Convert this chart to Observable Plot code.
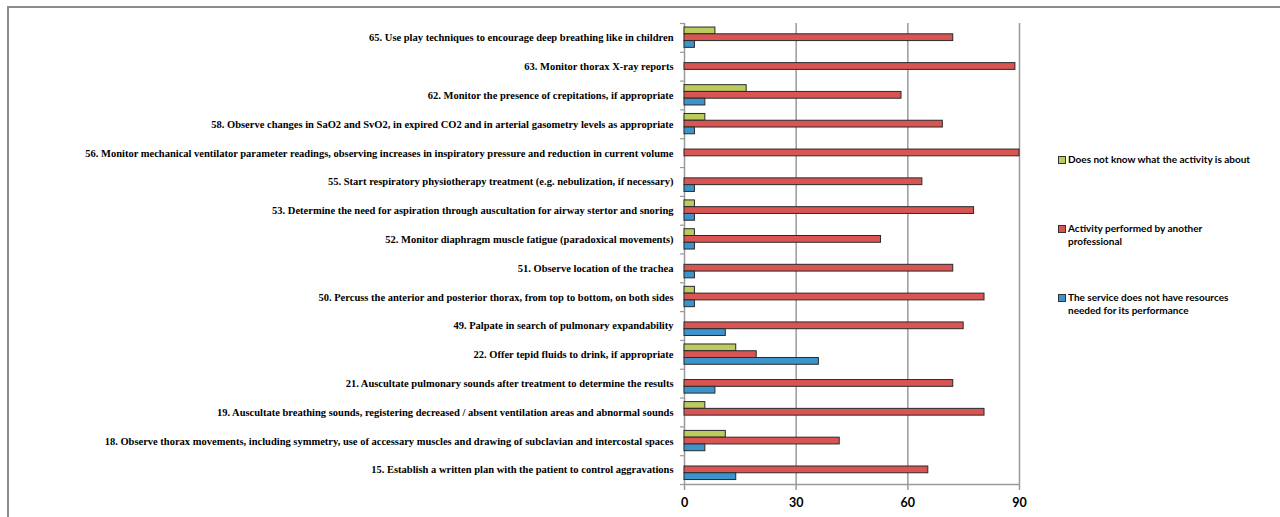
<!DOCTYPE html>
<html>
<head>
<meta charset="utf-8">
<script src="https://cdn.jsdelivr.net/npm/d3@7"></script>
<script src="https://cdn.jsdelivr.net/npm/@observablehq/plot@0.6"></script>
<style>
  html, body { margin: 0; padding: 0; background: #fff; }
  #wrap { position: relative; width: 1280px; height: 517px; overflow: hidden; }
  #frameTop { position: absolute; left: 8px; top: 6px; right: 0; height: 0; border-top: 2px solid #8c8c8c; }
  #frameLeft { position: absolute; left: 7px; top: 6px; bottom: 0; width: 0; border-left: 2px solid #8c8c8c; }
  #legend { position: absolute; left: 1058px; top: 0; font-family: Lato, "Open Sans", sans-serif; font-weight: bold; font-size: 10px; color: #000; }
  .item { position: absolute; left: 0; width: 210px; line-height: 13px; white-space: nowrap; }
  .sw { position: absolute; left: 0; top: 3px; width: 6px; height: 6px; border: 1px solid #333; }
  .lt { position: absolute; left: 10px; top: 0; }
  svg text { font-family: inherit; }
</style>
</head>
<body>
<div id="wrap">
  <div id="chart"></div>
  <div id="frameTop"></div>
  <div id="frameLeft"></div>
  <div id="legend"></div>
</div>
<script>
const labels = [
  "65. Use play techniques to encourage deep breathing like in children",
  "63. Monitor thorax X-ray reports",
  "62. Monitor the presence of crepitations, if appropriate",
  "58. Observe changes in SaO2 and SvO2, in expired CO2 and in arterial gasometry levels as appropriate",
  "56. Monitor mechanical ventilator parameter readings, observing increases in inspiratory pressure and reduction in current volume",
  "55. Start respiratory physiotherapy treatment (e.g. nebulization, if necessary)",
  "53. Determine the need for aspiration through auscultation for airway stertor and snoring",
  "52. Monitor diaphragm muscle fatigue (paradoxical movements)",
  "51. Observe location of the trachea",
  "50. Percuss the anterior and posterior thorax, from top to bottom, on both sides",
  "49. Palpate in search of pulmonary expandability",
  "22. Offer tepid fluids to drink, if appropriate",
  "21. Auscultate pulmonary sounds after treatment to determine the results",
  "19. Auscultate breathing sounds, registering decreased / absent ventilation areas and abnormal sounds",
  "18. Observe thorax movements, including symmetry, use of accessary muscles and drawing of subclavian and intercostal spaces",
  "15. Establish a written plan with the patient to control aggravations"
];
const doesNotKnow       = [8.3, 0, 16.7, 5.6, 0, 0, 2.8, 2.8, 0, 2.8, 0, 13.9, 0, 5.6, 11.1, 0];
const otherProfessional = [72.2, 88.9, 58.3, 69.4, 90, 63.9, 77.8, 52.8, 72.2, 80.6, 75, 19.4, 72.2, 80.6, 41.7, 65.5];
const noResources       = [2.8, 0, 5.6, 2.8, 0, 2.8, 2.8, 2.8, 2.8, 2.8, 11.1, 36.1, 8.3, 0, 5.6, 13.9];
const seriesNames = [
  "Does not know what the activity is about",
  "Activity performed by another professional",
  "The service does not have resources needed for its performance"
];
const seriesLegendLines = [
  ["Does not know what the activity is about"],
  ["Activity performed by another", "professional"],
  ["The service does not have resources", "needed for its performance"]
];
const xTicks = [0, 30, 60, 90];
const colors = ["#BBCB5D", "#D95553", "#3D94CC"];

const seriesValues = [doesNotKnow, otherProfessional, noResources];
const groupStart = 0.14, barH = 0.235;
const rects = [];
seriesValues.forEach((vals, s) => {
  vals.forEach((v, i) => {
    if (v > 0) rects.push({
      row: i, series: seriesNames[s], value: v,
      y1: i + groupStart + s * barH, y2: i + groupStart + (s + 1) * barH
    });
  });
});
const rows = labels.map((label, i) => ({label, c: i + 0.5}));

const chart = Plot.plot({
  width: 1280,
  height: 517,
  marginLeft: 684,
  marginRight: 261,
  marginTop: 23,
  marginBottom: 33,
  x: {domain: [0, 90]},
  y: {domain: [labels.length, 0]},
  color: {domain: seriesNames, range: colors},
  style: {background: "transparent", overflow: "visible"},
  marks: [
    Plot.ruleX([30, 60, 90], {y1: 0, y2: labels.length, stroke: "#9a9a9a", strokeWidth: 1.5, strokeOpacity: 1}),
    Plot.axisX({ticks: xTicks, tickSize: 6, tickPadding: 8, stroke: "#9a9a9a", strokeWidth: 1.5, strokeOpacity: 1,
      tickFormat: d => String(d), fontFamily: "Lato, sans-serif", fontWeight: "bold", fontSize: 12.5, fill: "#000", label: null}),
    Plot.axisY({ticks: d3.range(labels.length + 1), tickSize: 4, tickFormat: () => "", stroke: "#9a9a9a", strokeWidth: 1.2, strokeOpacity: 1, label: null}),
    Plot.ruleX([0], {y1: 0, y2: labels.length, stroke: "#9a9a9a", strokeWidth: 1.5}),
    Plot.ruleY([labels.length], {stroke: "#9a9a9a", strokeWidth: 1.5}),
    Plot.rect(rects, {x1: 0, x2: "value", y1: "y1", y2: "y2", fill: "series", stroke: "#2a2a2a", strokeWidth: 1}),
    Plot.text(rows, {x: () => 0, y: "c", text: "label", textAnchor: "end", dx: -11,
      fontFamily: "'Liberation Serif', 'DejaVu Serif', serif", fontWeight: "bold", fontSize: 10.5, fill: "#000"})
  ]
});
document.getElementById("chart").appendChild(chart);

// legend
const legend = document.getElementById("legend");
const legendTops = [153, 222, 291];
seriesNames.forEach((name, s) => {
  const item = document.createElement("div");
  item.className = "item";
  item.style.top = legendTops[s] + "px";
  const sw = document.createElement("div");
  sw.className = "sw";
  sw.style.background = colors[s];
  const t = document.createElement("div");
  t.className = "lt";
  t.innerHTML = seriesLegendLines[s].join("<br>");
  item.appendChild(sw);
  item.appendChild(t);
  legend.appendChild(item);
});
</script>
</body>
</html>
